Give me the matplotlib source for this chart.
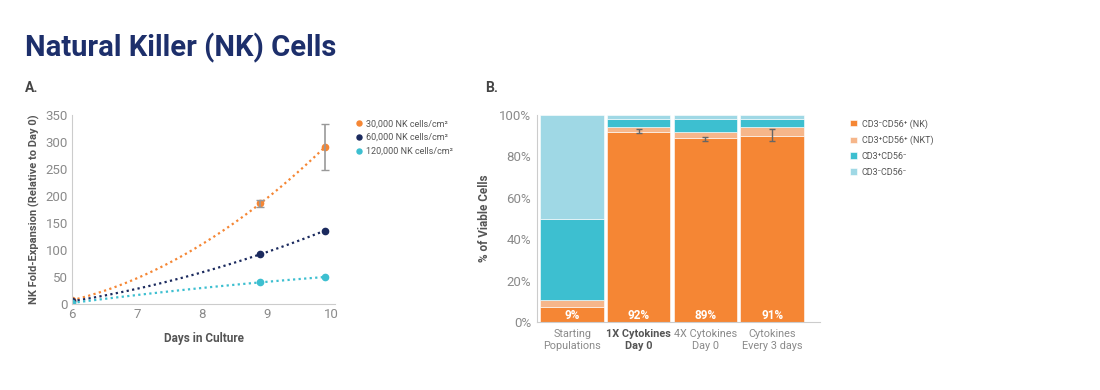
import numpy as np
import matplotlib.pyplot as plt

plt.rcParams['font.family'] = ['Roboto', 'DejaVu Sans']

# panel A: fold expansion
days = [6, 8.9, 9.9]
fold_30k = [7, 186, 291]
err_30k = [0, 7, 43]
fold_60k = [5, 92, 136]
fold_120k = [2, 40, 50]
series_names = ['30,000 NK cells/cm²', '60,000 NK cells/cm²', '120,000 NK cells/cm²']

# panel B: composition
groups = ['Starting\nPopulations', '1X Cytokines\nDay 0', '4X Cytokines\nDay 0', 'Cytokines\nEvery 3 days']
nk = [7.5, 92, 89, 90]
nkt = [3, 2, 3, 4]
t_cells = [39.5, 4, 6, 4]
other = [50, 2, 2, 2]
nk_err = [0, 1, 1, 3]
nk_err_center = [0, 92.5, 88.5, 90.5]
pct_labels = ['9%', '92%', '89%', '91%']
comp_names = ['CD3⁻CD56⁺ (NK)', 'CD3⁺CD56⁺ (NKT)', 'CD3⁺CD56⁻', 'CD3⁻CD56⁻']

ORANGE = '#F58634'
LORANGE = '#F6B68A'
TEAL = '#3DBFD0'
LTEAL = '#9FD8E5'
NAVY = '#1B2A5E'
GRAY = '#8A8A8A'

fig = plt.figure(figsize=(11, 3.9), dpi=100)
fig.text(0.023, 0.855, 'Natural Killer (NK) Cells', fontsize=21, fontweight='bold', color='#1D2F6B')
fig.text(0.023, 0.765, 'A.', fontsize=10, fontweight='bold', color='#444444')
fig.text(0.441, 0.765, 'B.', fontsize=10, fontweight='bold', color='#444444')

# ---- A ----
ax = fig.add_axes([0.0655, 0.2205, 0.239, 0.485])
xs = np.linspace(6, 9.9, 100)
for y, c, name in [(fold_30k, ORANGE, series_names[0]), (fold_60k, NAVY, series_names[1]), (fold_120k, TEAL, series_names[2])]:
    coef = np.polyfit(days, y, 2)
    ax.plot(xs, np.polyval(coef, xs), ls=(0, (1, 1.5)), color=c, lw=1.6)
    ax.plot(days, y, 'o', color=c, ms=4.5, label=name)
ax.errorbar(days[1:], fold_30k[1:], yerr=err_30k[1:], fmt='none', ecolor='#999999', elinewidth=1.2, capsize=3)
ax.set_xlim(6, 10.05)
ax.set_ylim(0, 350)
ax.set_xticks([6, 7, 8, 9, 10])
ax.set_yticks(range(0, 351, 50))
for s in ['top', 'right']:
    ax.spines[s].set_visible(False)
for s in ['left', 'bottom']:
    ax.spines[s].set_color('#CCCCCC')
ax.tick_params(length=0, labelsize=9.5, labelcolor=GRAY, pad=3)
ax.set_xlabel('Days in Culture', fontsize=8.5, fontweight='bold', color='#555555', labelpad=8)
ax.set_ylabel('NK Fold-Expansion (Relative to Day 0)', fontsize=8, fontweight='bold', color='#555555', labelpad=4)
ax.legend(loc='upper left', bbox_to_anchor=(1.05, 1.02), frameon=False, fontsize=6.5,
          handletextpad=0.5, markerscale=0.8, labelspacing=0.55, labelcolor='#555555', handlelength=0.6)

# ---- B ----
bx = fig.add_axes([0.488, 0.174, 0.257, 0.531])
x = np.arange(len(groups))
bottom = np.zeros(len(groups))
for vals, c, name in [(nk, ORANGE, comp_names[0]), (nkt, LORANGE, comp_names[1]), (t_cells, TEAL, comp_names[2]), (other, LTEAL, comp_names[3])]:
    bx.bar(x, vals, bottom=bottom, width=0.95, color=c, edgecolor='white', linewidth=0.4, label=name)
    bottom += np.array(vals)
bx.errorbar(x[1:], nk_err_center[1:], yerr=nk_err[1:], fmt='none', ecolor='#666666', elinewidth=1, capsize=2.5)
for i, t in enumerate(pct_labels):
    bx.text(x[i], 3, t, ha='center', va='center', color='white', fontsize=8.5, fontweight='bold')
bx.set_xlim(-0.53, 3.71)
bx.set_ylim(0, 100)
bx.set_yticks(range(0, 101, 20))
bx.set_yticklabels([f'{v}%' for v in range(0, 101, 20)])
bx.set_xticks(x)
bx.set_xticklabels(groups)
for s in ['top', 'right']:
    bx.spines[s].set_visible(False)
for s in ['left', 'bottom']:
    bx.spines[s].set_color('#CCCCCC')
bx.tick_params(length=0, labelsize=9.5, labelcolor=GRAY, pad=4)
bx.tick_params(axis='x', labelsize=7.8, pad=5)
xl = bx.get_xticklabels()
xl[1].set_fontweight('bold')
xl[1].set_color('#555555')
bx.set_ylabel('% of Viable Cells', fontsize=8.5, fontweight='bold', color='#555555', labelpad=6)
bx.legend(loc='upper left', bbox_to_anchor=(1.08, 1.02), frameon=False, fontsize=6.5,
          handlelength=0.7, handleheight=0.7, handletextpad=0.6, labelspacing=0.75, labelcolor='#555555')

fig.savefig('out.png', dpi=100)
